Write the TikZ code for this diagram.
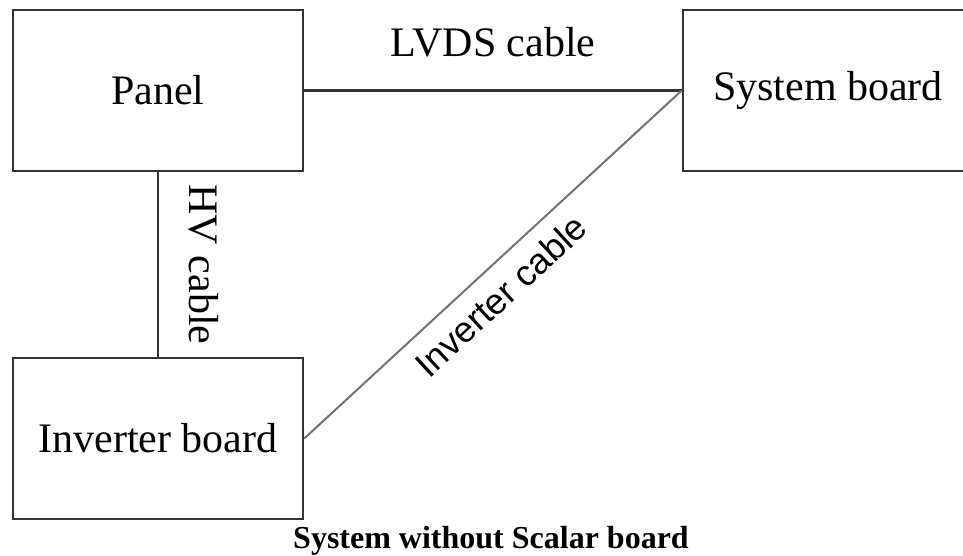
\documentclass[tikz,border=0pt]{standalone}
\usepackage{fontspec}
\setmainfont{Liberation Serif}
\setsansfont{Liberation Sans}
\usepackage{tikz}
\usetikzlibrary{calc}

\begin{document}
\begin{tikzpicture}[x=1pt, y=-1pt,
	board/.style={draw=black!80, line width=2.5pt, minimum width=290pt, minimum height=161pt, inner sep=0pt, font=\fontsize{42}{50}\selectfont},
	cable/.style={draw=black!80, line width=2.5pt},
	lbl/.style={inner sep=0pt, font=\fontsize{42}{50}\selectfont}]
	\clip (0,0) rectangle (963,556);
	\node [board] (panel) at (158,90.5) {Panel};
	\node [board] (sysb) at (828,90.5) {System board};
	\node [board] (inv) at (158,438.5) {Inverter board};
	\draw [cable] (panel.east) -- (sysb.west);
	\draw [cable] (panel.south) -- (inv.north);
	\draw [cable, draw=black!55, line width=2pt] (inv.east) -- (sysb.west)
		node [pos=0.47, sloped, below, inner sep=14pt, font=\sffamily\fontsize{36}{43}\selectfont] (invcable) {Inverter cable};
	\path (panel.east) -- (sysb.west) node [lbl, midway, above=33pt] (lvds) {LVDS cable};
	\path (panel.south) -- (inv.north) node [lbl, midway, rotate=-90, anchor=south, inner sep=31pt] (hv) {HV cable};
	\node [anchor=base, inner sep=0pt, font=\bfseries\fontsize{32}{38}\selectfont] (caption) at (491,548) {System without Scalar board};
\end{tikzpicture}
\end{document}
